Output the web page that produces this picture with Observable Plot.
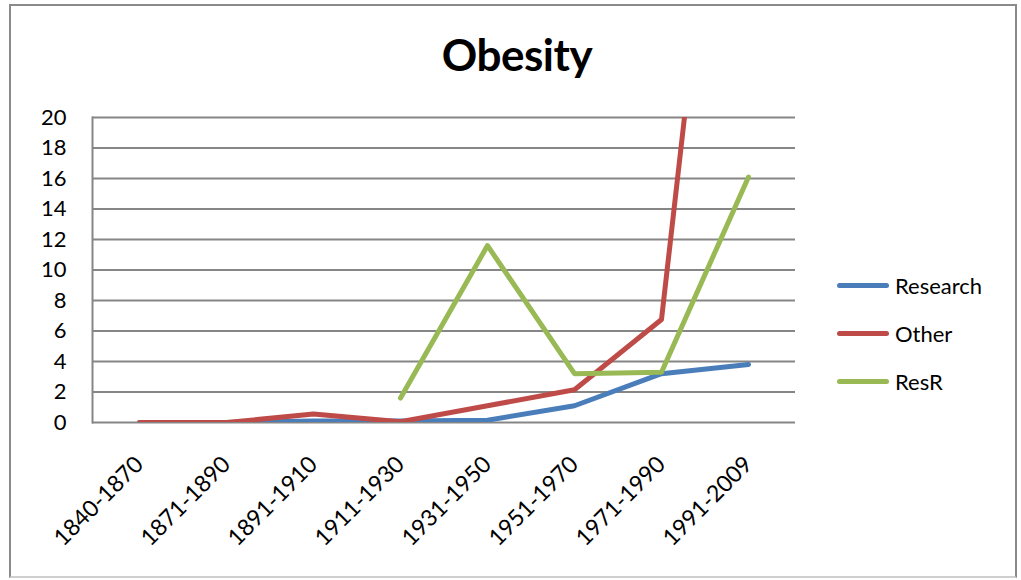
<!DOCTYPE html>
<html>
<head>
<meta charset="utf-8">
<script src="https://cdn.jsdelivr.net/npm/d3@7"></script>
<script src="https://cdn.jsdelivr.net/npm/@observablehq/plot@0.6"></script>
<style>
  html, body { margin: 0; padding: 0; background: #fff; }
  #frame {
    position: relative; width: 1021px; height: 580px; overflow: hidden;
    font-family: Lato, "Open Sans", sans-serif;
  }
  #border {
    position: absolute; left: 9px; top: 4px; width: 1008px; height: 574px;
    border: 2px solid #8a8a8a; box-sizing: border-box; border-bottom-color: #cfcfcf;
    pointer-events: none;
  }
  #title {
    position: absolute; left: 0; width: 1034px; top: 28px; text-align: center;
    font-size: 44px; font-weight: 700; color: #000; letter-spacing: -0.5px;
  }
  #chart { position: absolute; left: 0; top: 0; }
  #legend { position: absolute; left: 837px; top: 270px; }
  .item { position: absolute; left: 0; height: 30px; display: flex; align-items: center; white-space: nowrap; }
  .swatch { width: 52px; height: 5px; border-radius: 2.5px; margin-right: 6px; }
  .label { font-size: 22px; color: #000; }
</style>
</head>
<body>
<div id="frame">
  <div id="title">Obesity</div>
  <div id="chart"></div>
  <div id="legend"></div>
  <div id="border"></div>
</div>
<script>
// Time periods on the x axis
const categories = ["1840-1870", "1871-1890", "1891-1910", "1911-1930", "1931-1950", "1951-1970", "1971-1990", "1991-2009"];
// Series values per period (null = no value)
const research = [0, 0, 0.1, 0.1, 0.15, 1.1, 3.2, 3.8];
const other = [0, 0, 0.55, 0.05, 1.1, 2.15, 6.75, 57];
const resR = [null, null, null, 1.6, 11.6, 3.2, 3.3, 16.1];
// Y axis tick values
const yTicks = [0, 2, 4, 6, 8, 10, 12, 14, 16, 18, 20];

const seriesNames = ["Research", "Other", "ResR"];
const seriesValues = [research, other, resR];
const colors = ["#4a7ebb", "#be4b48", "#98b954"];

const rows = (vals) => categories.map((c, i) => ({cat: c, value: vals[i]}));

// One line per series, later series drawn on top; clipped to the 0–20 range
const lineMarks = seriesValues.map((vals, k) =>
  Plot.lineY(rows(vals), {
    x: "cat", y: "value", stroke: colors[k], strokeWidth: 5,
    strokeLinecap: "round", strokeLinejoin: "round", clip: true
  })
);

const chart = Plot.plot({
  width: 1021,
  height: 580,
  marginLeft: 92,
  marginRight: 226,
  marginTop: 117,
  marginBottom: 158,
  style: {fontFamily: "Lato, 'Open Sans', sans-serif", fontSize: "22px", color: "#000", background: "transparent"},
  x: {type: "point", domain: categories, padding: 0.5},
  y: {domain: [0, 20]},
  marks: [
    Plot.ruleY(yTicks, {stroke: "#868686", strokeWidth: 2, strokeOpacity: 1}),
    Plot.frame({anchor: "left", stroke: "#868686", strokeWidth: 2}),
    Plot.axisY(yTicks, {tickSize: 0, tickPadding: 26, fontSize: 22, label: null, fill: "#000"}),
    Plot.axisX({tickSize: 0, tickRotate: -45, tickPadding: 38, fontSize: 23, label: null, fill: "#000"}),
    ...lineMarks
  ]
});
document.getElementById("chart").appendChild(chart);

// Legend entries
const legend = document.getElementById("legend");
seriesNames.forEach((name, k) => {
  const item = document.createElement("div");
  item.className = "item";
  item.style.top = (k * 48) + "px";
  item.innerHTML = `<div class="swatch" style="background:${colors[k]}"></div><span class="label">${name}</span>`;
  legend.appendChild(item);
});
</script>
</body>
</html>
